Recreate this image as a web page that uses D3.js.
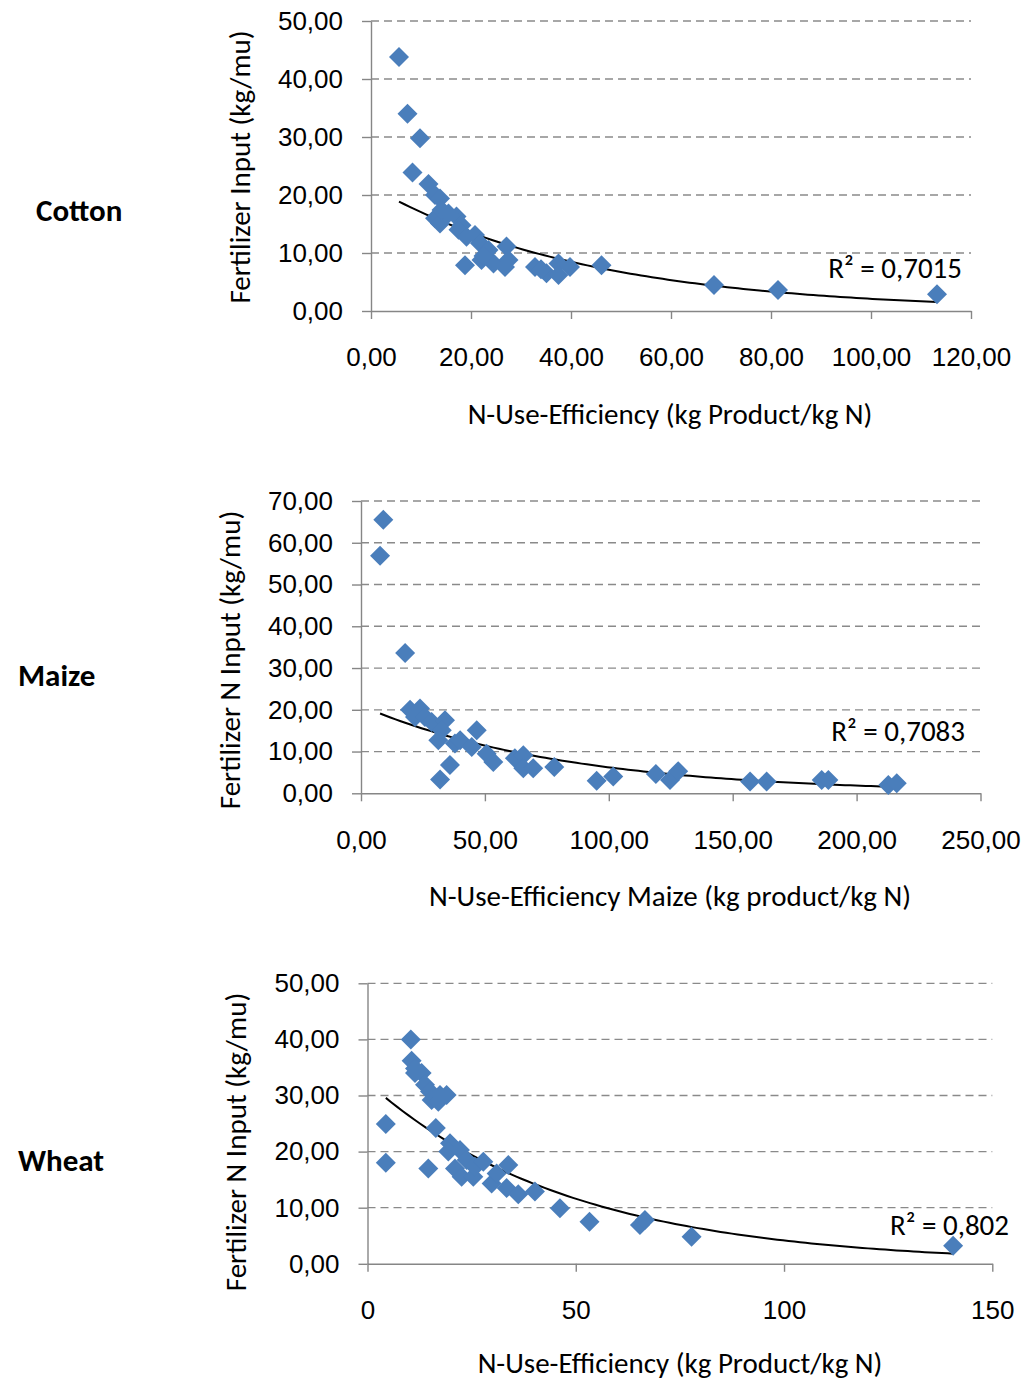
<!DOCTYPE html>
<html>
<head>
<meta charset="utf-8">
<script src="https://cdn.jsdelivr.net/npm/d3@7"></script>
<style>
  body { margin: 0; background: #fff; }
  svg { display: block; font-family: Carlito, Calibri, Lato, "Open Sans", sans-serif; }
</style>
</head>
<body>
<svg width="1022" height="1381"></svg>
<script>
// values
const cottonPoints = [
    [5.6, 43.8], [7.3, 34.0], [9.8, 29.8], [8.3, 23.9], [11.5, 21.9], [12.8, 20.0],
    [13.8, 19.4], [12.8, 16.0], [13.8, 15.1], [14.1, 17.4], [17.1, 16.3], [18.1, 14.8],
    [17.5, 14.0], [19.1, 12.8], [20.8, 13.1], [21.8, 11.7], [23.5, 10.5], [18.8, 7.9],
    [22.1, 8.8], [24.5, 8.2], [27.1, 11.1], [27.5, 8.8], [26.8, 7.6], [32.8, 7.6],
    [35.1, 6.5], [37.5, 8.2], [37.5, 6.2], [39.8, 7.6], [46.1, 7.9], [68.6, 4.5],
    [81.4, 3.6], [113.2, 2.9], [15.5, 16.8], [22.5, 9.5], [34.0, 7.2]
];
const maizePoints = [
    [9.0, 65.5], [7.7, 56.9], [17.8, 33.6], [19.8, 20.0], [23.8, 20.3], [21.8, 18.3],
    [25.8, 18.3], [28.5, 17.1], [33.9, 17.5], [32.6, 15.1], [31.2, 12.7], [37.9, 11.9],
    [40.0, 12.7], [46.7, 15.1], [44.7, 11.1], [50.7, 9.5], [53.4, 7.5], [35.9, 6.8],
    [31.9, 3.3], [62.1, 8.4], [65.5, 9.1], [65.5, 6.0], [69.5, 6.0], [78.0, 6.3],
    [95.1, 3.0], [101.8, 4.0], [119.0, 4.6], [124.7, 3.2], [128.0, 5.3], [157.0, 2.8],
    [163.7, 2.8], [185.9, 3.2], [188.6, 3.2], [212.8, 2.0], [216.2, 2.4]
];
const wheatPoints = [
    [10.4, 40.0], [10.6, 36.2], [11.4, 34.8], [13.0, 34.0], [11.4, 34.0], [13.8, 31.9],
    [15.0, 30.7], [15.4, 29.2], [17.0, 28.9], [19.0, 30.1], [17.4, 30.1], [4.4, 24.9],
    [4.4, 18.0], [16.4, 24.2], [14.6, 17.0], [19.8, 21.5], [19.4, 20.0], [22.2, 20.3],
    [21.0, 17.0], [22.6, 15.5], [23.8, 18.5], [25.4, 15.5], [25.8, 17.3], [27.8, 18.2],
    [29.8, 14.3], [31.0, 16.1], [33.8, 17.6], [33.4, 13.5], [36.2, 12.4], [40.2, 12.9],
    [46.2, 9.9], [53.3, 7.5], [65.4, 6.9], [66.6, 7.8], [77.8, 4.8], [140.6, 3.2]
];

const cottonXTicks = [0, 20, 40, 60, 80, 100, 120];
const cottonYTicks = [0, 10, 20, 30, 40, 50];
const maizeXTicks = [0, 50, 100, 150, 200, 250];
const maizeYTicks = [0, 10, 20, 30, 40, 50, 60, 70];
const wheatXTicks = [0, 50, 100, 150];
const wheatYTicks = [0, 10, 20, 30, 40, 50];

const r2Labels = ["R² = 0,7015", "R² = 0,7083", "R² = 0,802"];

const svg = d3.select("svg");
const loc = d3.formatLocale({ decimal: ",", thousands: ".", grouping: [3], currency: ["", ""] });
const f2 = loc.format(".2f");
const f0 = loc.format("d");

const blue = "#4a7ebb";
const axisGrey = "#868686";
const tickFont = 26;
const titleFont = 29;

const panels = [
    {
        name: "Cotton", nameX: 36, nameY: 210,
        points: cottonPoints, xTicks: cottonXTicks, yTicks: cottonYTicks,
        xFmt: f2, yFmt: f2,
        x: [371, 971], y: [311, 21],
        xTitle: "N-Use-Efficiency (kg Product/kg N)", xTitleX: 670, xTitleY: 414,
        yTitle: "Fertilizer Input (kg/mu)", yTitleX: 240, yTitleY: 167,
        r2: r2Labels[0], r2X: 962, r2Y: 278
    },
    {
        name: "Maize", nameX: 18, nameY: 675,
        points: maizePoints, xTicks: maizeXTicks, yTicks: maizeYTicks,
        xFmt: f2, yFmt: f2,
        x: [361, 980.5], y: [793.3, 501],
        xTitle: "N-Use-Efficiency Maize (kg product/kg N)", xTitleX: 670, xTitleY: 896,
        yTitle: "Fertilizer N Input (kg/mu)", yTitleX: 230, yTitleY: 660,
        r2: r2Labels[1], r2X: 965, r2Y: 741
    },
    {
        name: "Wheat", nameX: 18, nameY: 1160,
        points: wheatPoints, xTicks: wheatXTicks, yTicks: wheatYTicks,
        xFmt: f0, yFmt: f2,
        x: [367.5, 992.3], y: [1263.8, 983.3],
        xTitle: "N-Use-Efficiency (kg Product/kg N)", xTitleX: 680, xTitleY: 1363,
        yTitle: "Fertilizer N Input (kg/mu)", yTitleX: 236, yTitleY: 1142,
        r2: r2Labels[2], r2X: 1009, r2Y: 1235
    }
];

// Excel-style exponential trendline: least squares on ln(y)
function expFit(pts) {
    const n = pts.length;
    const sx = d3.sum(pts, d => d[0]);
    const sy = d3.sum(pts, d => Math.log(d[1]));
    const sxx = d3.sum(pts, d => d[0] * d[0]);
    const sxy = d3.sum(pts, d => d[0] * Math.log(d[1]));
    const b = (n * sxy - sx * sy) / (n * sxx - sx * sx);
    const a = Math.exp((sy - b * sx) / n);
    return v => a * Math.exp(b * v);
}

panels.forEach(p => {
    const x = d3.scaleLinear().domain(d3.extent(p.xTicks)).range(p.x);
    const y = d3.scaleLinear().domain(d3.extent(p.yTicks)).range(p.y);
    const g = svg.append("g");

    // gridlines
    g.selectAll(".grid")
        .data(p.yTicks.filter(t => t !== 0))
        .enter().append("line")
        .attr("x1", x.range()[0]).attr("x2", x.range()[1])
        .attr("y1", d => y(d)).attr("y2", d => y(d))
        .attr("stroke", "#8a8a8a")
        .attr("stroke-width", 1.3)
        .attr("stroke-dasharray", "8,5");

    // axes
    const xAxis = g.append("g")
        .attr("transform", `translate(0,${y(0)})`)
        .call(d3.axisBottom(x).tickValues(p.xTicks).tickFormat(p.xFmt)
            .tickSize(8).tickSizeOuter(0).tickPadding(29));
    const yAxis = g.append("g")
        .attr("transform", `translate(${x(0)},0)`)
        .call(d3.axisLeft(y).tickValues(p.yTicks).tickFormat(p.yFmt)
            .tickSize(9).tickSizeOuter(0).tickPadding(19));
    [xAxis, yAxis].forEach(a => {
        a.selectAll("path, line").attr("stroke", axisGrey).attr("stroke-width", 1.4);
        a.selectAll("text").attr("fill", "#000").style("font-size", tickFont + "px")
            .style("font-family", null);
    });

    // trendline
    const fit = expFit(p.points);
    const [x0, x1] = d3.extent(p.points, d => d[0]);
    const line = d3.line().x(d => x(d)).y(d => y(fit(d)));
    g.append("path")
        .datum(d3.range(0, 101).map(i => x0 + (x1 - x0) * i / 100))
        .attr("fill", "none")
        .attr("stroke", "#000")
        .attr("stroke-width", 2)
        .attr("d", line);

    // markers
    g.selectAll(".pt")
        .data(p.points)
        .enter().append("path")
        .attr("d", "M0,-10L10,0L0,10L-10,0Z")
        .attr("transform", d => `translate(${x(d[0])},${y(d[1])})`)
        .attr("fill", blue);

    // texts
    g.append("text")
        .attr("x", p.r2X).attr("y", p.r2Y)
        .attr("text-anchor", "end")
        .style("font-size", titleFont + "px")
        .text(p.r2);

    g.append("text")
        .attr("x", p.xTitleX).attr("y", p.xTitleY)
        .attr("text-anchor", "middle")
        .attr("dy", "0.35em")
        .style("font-size", titleFont + "px")
        .text(p.xTitle);

    g.append("text")
        .attr("transform", `translate(${p.yTitleX},${p.yTitleY}) rotate(-90)`)
        .attr("text-anchor", "middle")
        .attr("dy", "0.35em")
        .style("font-size", titleFont + "px")
        .text(p.yTitle);

    svg.append("text")
        .attr("x", p.nameX).attr("y", p.nameY)
        .attr("dy", "0.35em")
        .style("font-size", "31px")
        .style("font-weight", "bold")
        .text(p.name);
});
</script>
</body>
</html>
